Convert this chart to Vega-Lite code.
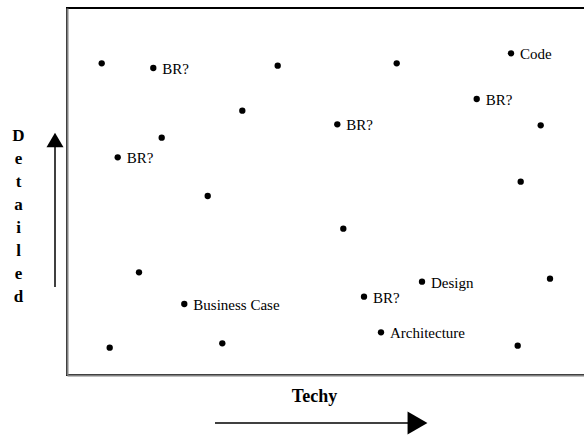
{
  "$schema": "https://vega.github.io/schema/vega-lite/v6.json",
  "width": 520,
  "height": 367,
  "autosize": "none",
  "padding": {"left": 67, "top": 8, "right": 0, "bottom": 61},
  "background": "white",
  "config": {"view": {"stroke": "#000000", "strokeWidth": 2}},
  "datasets": {
    "points": [
      {"x": 34.7, "y": 311.7, "label": ""},
      {"x": 86.3, "y": 307, "label": "BR?"},
      {"x": 210.7, "y": 309.3, "label": ""},
      {"x": 329.7, "y": 311.7, "label": ""},
      {"x": 444, "y": 321.7, "label": "Code"},
      {"x": 409.7, "y": 276, "label": "BR?"},
      {"x": 175.3, "y": 264.3, "label": ""},
      {"x": 94.7, "y": 237.3, "label": ""},
      {"x": 270.3, "y": 250.7, "label": "BR?"},
      {"x": 473.7, "y": 249.7, "label": ""},
      {"x": 50.7, "y": 217.7, "label": "BR?"},
      {"x": 453.7, "y": 193.3, "label": ""},
      {"x": 140.7, "y": 179, "label": ""},
      {"x": 276.3, "y": 146.3, "label": ""},
      {"x": 72, "y": 102.7, "label": ""},
      {"x": 483, "y": 96.3, "label": ""},
      {"x": 355, "y": 93.3, "label": "Design"},
      {"x": 297, "y": 78.3, "label": "BR?"},
      {"x": 117.3, "y": 71, "label": "Business Case"},
      {"x": 314, "y": 42.7, "label": "Architecture"},
      {"x": 42.7, "y": 27.3, "label": ""},
      {"x": 155.3, "y": 31.7, "label": ""},
      {"x": 450.7, "y": 29.3, "label": ""}
    ],
    "shafts": [
      {"x": 148, "x2": 345, "y": -48, "y2": -48},
      {"x": -12, "x2": -12, "y": 88, "y2": 230}
    ],
    "heads": [
      {"x": 350.5, "y": -48, "dir": "right"},
      {"x": -12, "y": 235, "dir": "up"}
    ]
  },
  "encoding": {
    "x": {
      "field": "x", "type": "quantitative",
      "scale": {"domain": [0, 520], "nice": false, "zero": false},
      "axis": {
        "title": "Techy", "labels": false, "ticks": false, "grid": false,
        "domainColor": "#808080", "domainWidth": 2,
        "titleFont": "Liberation Serif", "titleFontSize": 18, "titleFontWeight": "bold",
        "titleColor": "#000000",
        "titleX": 247, "titleY": 26, "titleAlign": "center", "titleBaseline": "alphabetic"
      }
    },
    "y": {
      "field": "y", "type": "quantitative",
      "scale": {"domain": [0, 367], "nice": false, "zero": false},
      "axis": {
        "title": ["D", "e", "t", "a", "i", "l", "e", "d"], "labels": false, "ticks": false, "grid": false,
        "domainColor": "#808080", "domainWidth": 2,
        "titleFont": "Liberation Serif", "titleFontSize": 17, "titleFontWeight": "bold",
        "titleColor": "#000000", "titleAngle": 0, "titleLineHeight": 23,
        "titleX": -49, "titleY": 132, "titleAlign": "center", "titleBaseline": "alphabetic"
      }
    }
  },
  "layer": [
    {
      "data": {"name": "points"},
      "mark": {"type": "point", "filled": true, "color": "#000000", "size": 40, "opacity": 1}
    },
    {
      "data": {"name": "points"},
      "transform": [{"filter": "datum.label != ''"}],
      "mark": {"type": "text", "align": "left", "baseline": "middle", "dx": 9, "dy": 1, "font": "Liberation Serif", "fontSize": 15, "color": "#000000"},
      "encoding": {
        "text": {"field": "label"}
      }
    },
    {
      "data": {"name": "shafts"},
      "mark": {"type": "rule", "color": "#000000", "strokeWidth": 1.5},
      "encoding": {
        "x2": {"field": "x2"},
        "y2": {"field": "y2"}
      }
    },
    {
      "data": {"name": "heads"},
      "transform": [{"filter": "datum.dir == 'right'"}],
      "mark": {"type": "point", "shape": "triangle-right", "filled": true, "color": "#000000", "size": 529, "opacity": 1}
    },
    {
      "data": {"name": "heads"},
      "transform": [{"filter": "datum.dir == 'up'"}],
      "mark": {"type": "point", "shape": "triangle-up", "filled": true, "color": "#000000", "size": 289, "opacity": 1}
    }
  ]
}
